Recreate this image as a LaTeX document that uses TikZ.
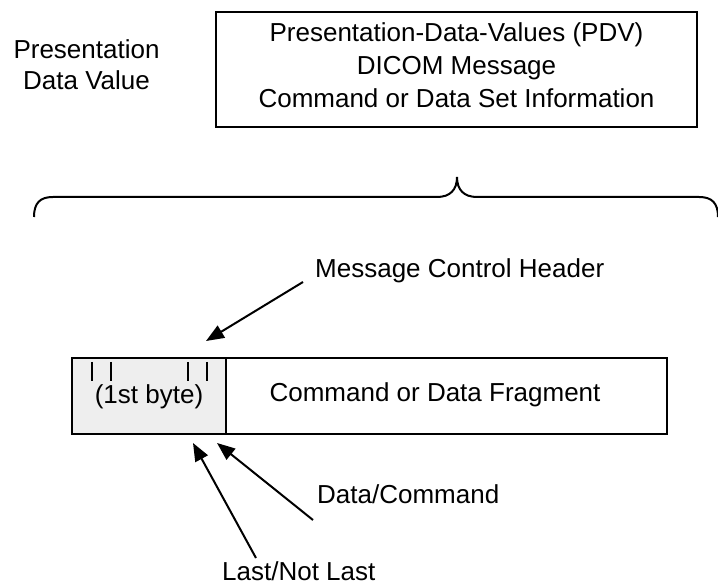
\documentclass[tikz,border=0pt]{standalone}
\usepackage{fontspec}
\setmainfont{Liberation Sans}
\usepackage{tikz}
\usetikzlibrary{arrows.meta}
\definecolor{hdrgray}{HTML}{EEEEEE}

\begin{document}
\begin{tikzpicture}[x=1pt,y=-1pt,
        every node/.style={font=\fontsize{26}{31}\selectfont, inner sep=0pt},
        box/.style={draw, line width=2pt, outer sep=0pt},
        ptr/.style={line width=2pt, -{Triangle[length=18pt,width=14pt]}}]
        \useasboundingbox (0,0) rectangle (718,585);

        % PDV label and box
        \node[align=center] (pdvlbl) at (86.5,65) {Presentation\\Data Value};
        \node[box, minimum width=481pt, minimum height=115pt] (pdv) at (456.5,70) {};
        \node[align=center, font=\fontsize{26}{33}\selectfont] (pdvtxt) at (456.5,65.5) {Presentation-Data-Values (PDV)\\DICOM Message\\Command or Data Set Information};

        % Brace
        \draw[line width=2pt] (34,217) .. controls (34,203) and (40,197) .. (53,197) -- (437,197)
            .. controls (450,197) and (457,190) .. (457,177)
            .. controls (457,190) and (464,197) .. (477,197) -- (699,197)
            .. controls (712,197) and (718,203) .. (718,217);

        % Header and fragment
        \node[box, fill=hdrgray, minimum width=154pt, minimum height=76pt] (hdr) at (149,396) {};
        \node[box, minimum width=441pt, minimum height=76pt, anchor=west] (frag) at (hdr.east) {};
        \node[anchor=base] (bytetxt) at (149,403) {(1st byte)};
        \node[anchor=base] (fragtxt) at (435,402) {Command or Data Fragment};

        % Bit marks
        \foreach \tx in {92,111,188,207}
            \draw[line width=1.5pt] (\tx,362) -- (\tx,381);

        % Labels
        \node[anchor=base west] (mch) at (315,278) {Message Control Header};
        \node[anchor=base west] (dc) at (317,503) {Data/Command};
        \node[anchor=base west] (lnl) at (222,580) {Last/Not Last};

        % Arrows
        \coordinate (mchtail) at (303,282);
        \coordinate (mchtip) at (206,341);
        \coordinate (dctail) at (313,520);
        \coordinate (dctip) at (217,443);
        \coordinate (lnltail) at (256,558);
        \coordinate (lnltip) at (193,443);
        \draw[ptr] (mchtail) -- (mchtip);
        \draw[ptr] (dctail) -- (dctip);
        \draw[ptr] (lnltail) -- (lnltip);

\end{tikzpicture}
\end{document}
